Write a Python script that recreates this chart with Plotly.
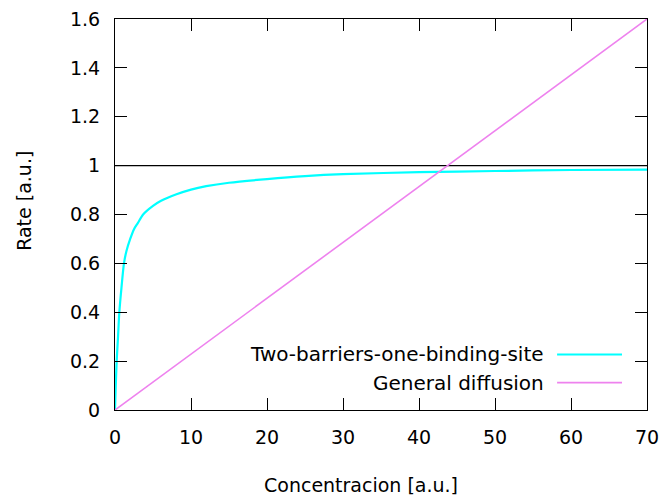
import plotly.graph_objects as go

# Concentration samples and the saturating transport rate (two barriers, one binding site)
conc_binding = [0, 0.1, 0.22, 0.4, 0.57, 0.85, 1.18, 1.5, 2, 2.5, 3, 3.7, 5, 6, 8, 10,
                12, 15, 20, 25, 30, 40, 50, 60, 70]
rate_binding = [0, 0.1, 0.2, 0.3, 0.4, 0.5, 0.6, 0.65, 0.7, 0.74, 0.765, 0.8, 0.835,
                0.855, 0.882, 0.902, 0.916, 0.93, 0.945, 0.957, 0.965, 0.973, 0.978,
                0.982, 0.984]

# Linear (general diffusion) rate
conc_diffusion = [0, 70]
rate_diffusion = [0, 1.6]

# Reference level at rate = 1
conc_ref = [0, 70]
rate_ref = [1, 1]

x_ticks = [0, 10, 20, 30, 40, 50, 60, 70]
y_ticks = [0, 0.2, 0.4, 0.6, 0.8, 1, 1.2, 1.4, 1.6]
y_tick_text = ["0", "0.2", "0.4", "0.6", "0.8", "1", "1.2", "1.4", "1.6"]

series_names = ["Two-barriers-one-binding-site", "General diffusion"]
series_colors = ["#00ffff", "#ee82ee"]

FONT = "DejaVu Sans, sans-serif"
FS = 19
KEY_FS = 20

fig = go.Figure()
fig.add_trace(go.Scatter(x=conc_ref, y=rate_ref, mode="lines",
                         line=dict(color="#000000", width=1.4), showlegend=False))
fig.add_trace(go.Scatter(x=conc_binding, y=rate_binding, mode="lines",
                         line=dict(color=series_colors[0], width=2.2, shape="spline", smoothing=0.8),
                         showlegend=False))
fig.add_trace(go.Scatter(x=conc_diffusion, y=rate_diffusion, mode="lines",
                         line=dict(color=series_colors[1], width=1.6), showlegend=False))

# gnuplot-style key: label on the left, line sample on the right
key_rows = [0.142, 0.070]
for name, color, yk in zip(series_names, series_colors, key_rows):
    fig.add_annotation(x=0.810, y=yk, xref="paper", yref="paper", text=name,
                       showarrow=False, xanchor="right", yanchor="middle",
                       font=dict(family=FONT, size=KEY_FS, color="#000000"))
    fig.add_shape(type="line", xref="paper", yref="paper",
                  x0=0.831, x1=0.953, y0=yk, y1=yk,
                  line=dict(color=color, width=1.8))

fig.add_annotation(x=0.462, y=-0.193, xref="paper", yref="paper",
                   text="Concentracion [a.u.]", showarrow=False,
                   xanchor="center", yanchor="middle",
                   font=dict(family=FONT, size=FS, color="#000000"))
fig.add_annotation(x=-0.171, y=0.535, xref="paper", yref="paper",
                   text="Rate [a.u.]", showarrow=False, textangle=-90,
                   xanchor="center", yanchor="middle",
                   font=dict(family=FONT, size=FS, color="#000000"))

axis_common = dict(showgrid=False, zeroline=False, showline=True, linecolor="#000000",
                   linewidth=1, mirror="ticks", ticks="inside", ticklen=12,
                   tickcolor="#000000", tickwidth=1, automargin=False,
                   tickfont=dict(family=FONT, size=FS, color="#000000"))

fig.update_xaxes(range=[0, 70], tickvals=x_ticks, ticklabelstandoff=10, **axis_common)
fig.update_yaxes(range=[0, 1.6], tickvals=y_ticks, ticktext=y_tick_text,
                 ticklabelstandoff=10, **axis_common)

fig.update_layout(width=664, height=497, paper_bgcolor="#ffffff", plot_bgcolor="#ffffff",
                  margin=dict(l=115, r=17, t=19, b=87, autoexpand=False), showlegend=False)

fig.write_html("out.html")
